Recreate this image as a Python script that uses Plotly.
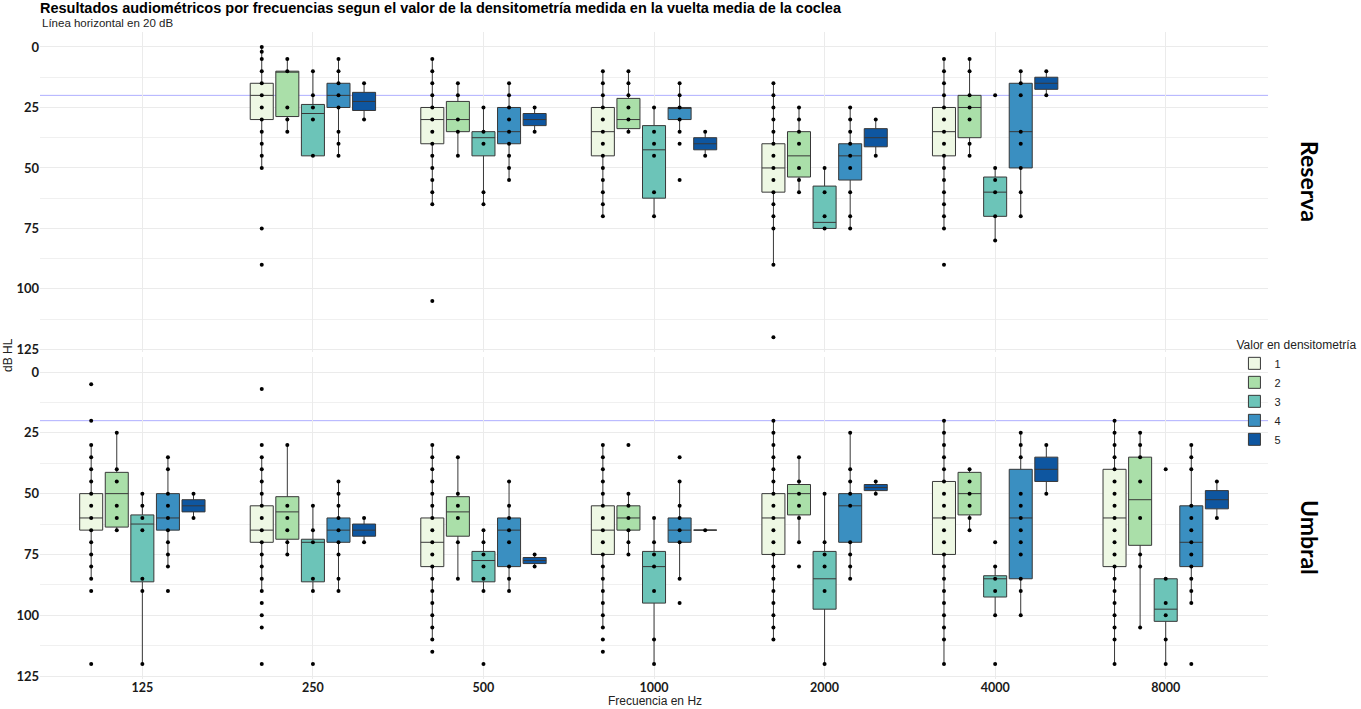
import plotly.graph_objects as go

# ---------------- data ----------------
FREQS = ["125", "250", "500", "1000", "2000", "4000", "8000"]
GROUPS = ["1", "2", "3", "4", "5"]
COLORS = ["#eef8e4", "#aadfa9", "#6cc4b8", "#3a8fc1", "#0e56a0"]
REF_LINE_DB = 20

# ---- Reserva panel (None = no data at that frequency) ----
RES_Q1 = [
    [None, 15, 25, 25, 40, 25, None],
    [None, 10, 22.5, 21.25, 35, 20, None],
    [None, 23.75, 35, 32.5, 57.5, 53.75, None],
    [None, 15, 25, 25, 40, 15, None],
    [None, 18.75, 27.5, 37.5, 33.75, 12.5, None],
]
RES_MED = [
    [None, 20, 30, 35, 50, 35, None],
    [None, 10, 30, 30, 45, 25, None],
    [None, 27.5, 37.5, 42.5, 72.5, 60, None],
    [None, 20, 35, 25, 45, 35, None],
    [None, 22.5, 30, 40, 37.5, 15, None],
]
RES_Q3 = [
    [None, 30, 40, 45, 60, 45, None],
    [None, 28.75, 35, 33.75, 53.75, 37.5, None],
    [None, 45, 45, 62.5, 75, 70, None],
    [None, 25, 40, 30, 55, 50, None],
    [None, 26.25, 32.5, 42.5, 41.25, 17.5, None],
]
RES_LO = [
    [None, 0, 5, 10, 15, 5, None],
    [None, 5, 15, 10, 25, 5, None],
    [None, 10, 25, 25, 50, 50, None],
    [None, 5, 15, 15, 25, 10, None],
    [None, 15, 25, 35, 30, 10, None],
]
RES_HI = [
    [None, 50, 65, 70, 90, 75, None],
    [None, 35, 45, 35, 60, 45, None],
    [None, 45, 65, 70, 75, 80, None],
    [None, 45, 55, 35, 75, 70, None],
    [None, 30, 35, 45, 45, 20, None],
]
RES_PTS_G1 = [
    None,
    [0, 2, 5, 10, 15, 20, 25, 30, 35, 40, 45, 50, 75, 90],
    [5, 10, 15, 20, 25, 30, 35, 40, 45, 50, 55, 60, 65, 105],
    [10, 15, 20, 25, 30, 35, 40, 45, 50, 55, 60, 65, 70],
    [15, 20, 25, 30, 35, 40, 45, 50, 55, 60, 65, 70, 75, 90, 120],
    [5, 10, 15, 20, 25, 30, 35, 40, 45, 50, 55, 60, 65, 70, 75, 90],
    None,
]
RES_PTS_G2 = [
    None,
    [5, 10, 25, 30, 35],
    [15, 20, 30, 35, 45],
    [10, 15, 20, 25, 30, 35],
    [25, 30, 35, 40, 50, 55, 60],
    [5, 10, 20, 25, 30, 40, 45],
    None,
]
RES_PTS_G3 = [
    None,
    [10, 20, 25, 30, 45],
    [25, 35, 40, 60, 65],
    [25, 35, 40, 45, 60, 70],
    [50, 60, 70, 75],
    [20, 50, 55, 60, 70, 80],
    None,
]
RES_PTS_G4 = [
    None,
    [5, 10, 15, 20, 25, 35, 40, 45],
    [15, 20, 25, 30, 35, 40, 45, 50, 55],
    [15, 20, 25, 30, 35, 40, 55],
    [25, 30, 35, 40, 45, 50, 60, 70, 75],
    [10, 15, 20, 35, 40, 50, 60, 70],
    None,
]
RES_PTS_G5 = [
    None,
    [15, 30],
    [25, 35],
    [35, 45],
    [30, 45],
    [10, 20],
    None,
]

# ---- Umbral panel ----
UMB_Q1 = [
    [50, 55, 60, 55, 50, 45, 40],
    [41.25, 51.25, 51.25, 55, 46.25, 41.25, 35],
    [58.75, 68.75, 73.75, 73.75, 73.75, 83.75, 85],
    [50, 60, 60, 60, 50, 40, 55],
    [52.5, 62.5, 76.25, 65, 46.25, 35, 48.75],
]
UMB_MED = [
    [60, 65, 70, 65, 60, 60, 60],
    [50, 57.5, 57.5, 60, 50, 50, 52.5],
    [62.5, 70, 77.5, 80, 85, 85, 97.5],
    [60, 65, 65, 65, 55, 60, 70],
    [55, 65, 77.5, 65, 47.5, 40, 52.5],
]
UMB_Q3 = [
    [65, 70, 80, 75, 75, 75, 80],
    [63.75, 68.75, 67.5, 65, 58.75, 58.75, 71.25],
    [86.25, 86.25, 86.25, 95, 97.5, 92.5, 102.5],
    [65, 70, 80, 70, 70, 85, 80],
    [57.5, 67.5, 78.75, 65, 48.75, 45, 56.25],
]
UMB_LO = [
    [30, 35, 30, 30, 20, 20, 20],
    [25, 30, 35, 50, 35, 40, 25],
    [50, 55, 65, 60, 50, 80, 85],
    [35, 45, 45, 45, 25, 25, 30],
    [50, 60, 75, 65, 45, 30, 45],
]
UMB_HI = [
    [85, 90, 110, 105, 110, 120, 120],
    [65, 75, 85, 75, 70, 65, 105],
    [120, 90, 90, 120, 120, 100, 120],
    [80, 90, 90, 85, 85, 100, 95],
    [60, 70, 80, 65, 50, 50, 60],
]
UMB_PTS_G1 = [
    [5, 20, 30, 35, 40, 45, 50, 55, 60, 65, 70, 75, 80, 85, 90, 120],
    [7, 30, 35, 40, 45, 50, 55, 60, 65, 70, 75, 80, 85, 90, 95, 100, 105, 120],
    [30, 35, 40, 45, 50, 55, 60, 65, 70, 75, 80, 85, 90, 95, 100, 105, 110, 115],
    [30, 35, 40, 45, 50, 55, 60, 65, 70, 75, 80, 85, 90, 95, 100, 105, 110, 115],
    [20, 25, 30, 35, 40, 45, 50, 55, 60, 65, 70, 75, 80, 85, 90, 95, 100, 105, 110],
    [20, 25, 30, 35, 40, 45, 50, 55, 60, 65, 70, 75, 80, 85, 90, 95, 100, 105, 110, 120],
    [20, 25, 30, 35, 40, 45, 50, 55, 60, 65, 70, 75, 80, 85, 90, 95, 100, 105, 110, 120],
]
UMB_PTS_G2 = [
    [25, 40, 45, 55, 60, 65],
    [30, 55, 60, 65, 70, 75],
    [35, 50, 55, 60, 70, 85],
    [30, 50, 55, 60, 65, 70, 75],
    [35, 45, 50, 55, 60, 70, 80],
    [40, 45, 50, 55, 60, 65],
    [25, 30, 35, 45, 60, 75, 80, 105],
]
UMB_PTS_G3 = [
    [50, 55, 60, 65, 85, 90, 120],
    [55, 65, 70, 85, 90, 120],
    [65, 70, 75, 80, 85, 90, 120],
    [60, 70, 75, 80, 90, 110, 120],
    [50, 70, 75, 80, 90, 120],
    [70, 80, 85, 90, 100, 120],
    [40, 85, 95, 100, 110, 120],
]
UMB_PTS_G4 = [
    [35, 40, 50, 55, 60, 65, 70, 75, 80, 90],
    [45, 50, 55, 60, 65, 70, 75, 85, 90],
    [45, 55, 60, 65, 70, 80, 85, 90],
    [35, 45, 55, 60, 65, 70, 85, 95],
    [25, 40, 45, 50, 55, 70, 75, 80, 85],
    [25, 30, 35, 50, 55, 60, 65, 70, 75, 85, 90, 100],
    [30, 35, 40, 55, 60, 65, 70, 75, 80, 85, 90, 95, 120],
]
UMB_PTS_G5 = [
    [50, 60],
    [60, 70],
    [75, 80],
    [65],
    [45, 50],
    [30, 50],
    [45, 60],
]

Y_TICKS = [0, 25, 50, 75, 100, 125]

# ---------------- figure ----------------
TICK_FONT = dict(family="Lato", size=13, color="#1a1a1a", weight="bold")
XTICK_FONT = dict(family="Lato", size=12.5, color="#1a1a1a", weight="bold")
GRID = "#ebebeb"

fig = go.Figure()

panels = [
    ("x", "y", RES_Q1, RES_MED, RES_Q3, RES_LO, RES_HI,
     [RES_PTS_G1, RES_PTS_G2, RES_PTS_G3, RES_PTS_G4, RES_PTS_G5], False),
    ("x2", "y2", UMB_Q1, UMB_MED, UMB_Q3, UMB_LO, UMB_HI,
     [UMB_PTS_G1, UMB_PTS_G2, UMB_PTS_G3, UMB_PTS_G4, UMB_PTS_G5], True),
]

for xa, ya, Q1, MED, Q3, LO, HI, PTS, show in panels:
    for g in range(len(GROUPS)):
        idx = [i for i in range(len(FREQS)) if Q1[g][i] is not None]
        fig.add_trace(go.Box(
            x=[FREQS[i] for i in idx],
            y=[PTS[g][i] for i in idx],
            q1=[Q1[g][i] for i in idx],
            median=[MED[g][i] for i in idx],
            q3=[Q3[g][i] for i in idx],
            lowerfence=[LO[g][i] for i in idx],
            upperfence=[HI[g][i] for i in idx],
            name=GROUPS[g],
            legendgroup=GROUPS[g],
            offsetgroup=GROUPS[g],
            showlegend=show,
            boxpoints="all", jitter=0, pointpos=0,
            marker=dict(color="black", size=4),
            line=dict(color="#383838", width=1),
            fillcolor=COLORS[g],
            whiskerwidth=0,
            xaxis=xa, yaxis=ya,
        ))

X_DOMAIN = [0.0294, 0.9317]
common_x = dict(
    type="category", categoryorder="array", categoryarray=FREQS,
    range=[-0.6, len(FREQS) - 0.4], domain=X_DOMAIN,
    showgrid=True, gridcolor=GRID, gridwidth=1, zeroline=False,
    showline=False, ticks="", tickfont=XTICK_FONT, automargin=False,
)
common_y = dict(
    range=[126, -6], tickvals=Y_TICKS, showgrid=True, gridcolor=GRID, gridwidth=1,
    zeroline=False, showline=False, ticks="", tickfont=TICK_FONT, automargin=False,
    minor=dict(tick0=0, dtick=12.5, showgrid=True, gridcolor="#f0f0f0", gridwidth=1),
)

fig.update_layout(
    width=1361, height=709,
    margin=dict(l=0, r=0, t=0, b=0),
    paper_bgcolor="white", plot_bgcolor="white",
    boxmode="group", boxgap=0.25, boxgroupgap=0.1,
    xaxis=dict(common_x, anchor="y", showticklabels=False),
    xaxis2=dict(common_x, anchor="y2", showticklabels=True),
    yaxis=dict(common_y, anchor="x", domain=[0.5038, 0.9542]),
    yaxis2=dict(common_y, anchor="x2", domain=[0.0430, 0.4959]),
    title=dict(
        text="Resultados audiométricos por frecuencias segun el valor de la densitometría medida en la vuelta media de la coclea",
        font=dict(family="Liberation Sans", size=14.5, color="black", weight="bold"),
        x=0.0294, xanchor="left", y=1 - 8 / 709, yanchor="middle", xref="paper",
    ),
    legend=dict(
        x=0.907, y=0.53, xanchor="left", yanchor="top",
        title=dict(text="Valor en densitometría", side="top",
                   font=dict(family="Liberation Sans", size=12, color="#222")),
        font=dict(family="Liberation Sans", size=11, color="#222"),
        bgcolor="rgba(0,0,0,0)", tracegroupgap=0, itemwidth=30,
    ),
    showlegend=True,
)

for xr, yr in [("x domain", "y"), ("x2 domain", "y2")]:
    fig.add_shape(type="line", xref=xr, yref=yr,
                  x0=0, x1=1, y0=REF_LINE_DB, y1=REF_LINE_DB,
                  line=dict(color="rgba(110,110,255,0.55)", width=1), layer="below")

annos = [
    dict(text="Línea horizontal en 20 dB", x=0.0294, y=1 - 23 / 709, xanchor="left", yanchor="middle",
         font=dict(family="Liberation Sans", size=11.5, color="#222")),
    dict(text="dB HL", x=8 / 1361, y=1 - 355 / 709, textangle=-90, xanchor="center", yanchor="middle",
         font=dict(family="Liberation Sans", size=12, color="#222")),
    dict(text="Frecuencia en Hz", x=655 / 1361, y=0, xanchor="center", yanchor="bottom",
         borderpad=0,
         font=dict(family="Liberation Sans", size=12, color="#222")),
    dict(text="Reserva", x=1310 / 1361, y=1 - 181 / 709, textangle=90, xanchor="center", yanchor="middle",
         font=dict(family="Lato", size=23, color="black", weight="bold")),
    dict(text="Umbral", x=1310 / 1361, y=1 - 537 / 709, textangle=90, xanchor="center", yanchor="middle",
         font=dict(family="Lato", size=23, color="black", weight="bold")),
]
for a in annos:
    fig.add_annotation(xref="paper", yref="paper", showarrow=False, **a)

fig.write_html("out.html")
